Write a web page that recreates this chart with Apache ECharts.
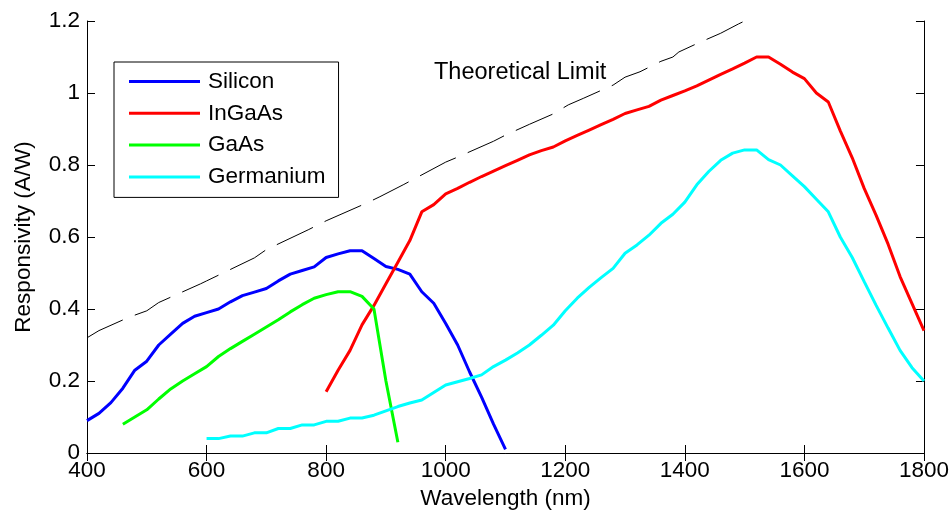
<!DOCTYPE html>
<html>
<head>
<meta charset="utf-8">
<script src="https://cdn.jsdelivr.net/npm/echarts@6/dist/echarts.min.js"></script>
<style>
  html, body { margin: 0; padding: 0; background: #fff; }
  #chart { width: 952px; height: 520px; }
</style>
</head>
<body>
<div id="chart"></div>
<script>
// wavelength (nm) / responsivity (A/W) pairs
var silicon = [
  [400, 0.09], [420, 0.11], [440, 0.14], [460, 0.18], [480, 0.23], [500, 0.255],
  [520, 0.30], [540, 0.33], [560, 0.36], [580, 0.38], [600, 0.39], [620, 0.40],
  [640, 0.42], [660, 0.437], [680, 0.447], [700, 0.457], [720, 0.478], [740, 0.497],
  [760, 0.507], [780, 0.517], [800, 0.543], [820, 0.553], [840, 0.562], [860, 0.562],
  [880, 0.54], [900, 0.518], [920, 0.51], [940, 0.497], [960, 0.448], [980, 0.416],
  [1000, 0.36], [1020, 0.30], [1040, 0.225], [1060, 0.155], [1080, 0.08], [1100, 0.01]
];
var ingaas = [
  [800, 0.17], [820, 0.23], [840, 0.285], [860, 0.356], [880, 0.41], [900, 0.47],
  [920, 0.53], [940, 0.59], [960, 0.67], [980, 0.69], [1000, 0.72], [1020, 0.735],
  [1040, 0.752], [1060, 0.768], [1080, 0.783], [1100, 0.798], [1120, 0.813], [1140, 0.828],
  [1160, 0.84], [1180, 0.85], [1200, 0.867], [1220, 0.882], [1240, 0.897], [1260, 0.912],
  [1280, 0.927], [1300, 0.943], [1320, 0.953], [1340, 0.963], [1360, 0.98], [1380, 0.993],
  [1400, 1.006], [1420, 1.02], [1440, 1.036], [1460, 1.052], [1480, 1.067], [1500, 1.083],
  [1520, 1.1], [1540, 1.1], [1560, 1.08], [1580, 1.058], [1600, 1.04], [1620, 1.0],
  [1640, 0.975], [1660, 0.895], [1680, 0.82], [1700, 0.735], [1720, 0.66], [1740, 0.58],
  [1760, 0.49], [1780, 0.415], [1800, 0.34]
];
var gaas = [
  [460, 0.08], [480, 0.10], [500, 0.12], [520, 0.15], [540, 0.178], [560, 0.20],
  [580, 0.22], [600, 0.24], [620, 0.268], [640, 0.29], [660, 0.31], [680, 0.33],
  [700, 0.35], [720, 0.37], [740, 0.392], [760, 0.412], [780, 0.43], [800, 0.44],
  [820, 0.448], [840, 0.448], [860, 0.435], [880, 0.40], [900, 0.20], [920, 0.03]
];
var germanium = [
  [600, 0.04], [620, 0.04], [640, 0.047], [660, 0.047], [680, 0.056], [700, 0.056],
  [720, 0.068], [740, 0.068], [760, 0.078], [780, 0.078], [800, 0.088], [820, 0.088],
  [840, 0.097], [860, 0.097], [880, 0.105], [900, 0.117], [920, 0.129], [940, 0.139],
  [960, 0.147], [980, 0.168], [1000, 0.189], [1020, 0.198], [1040, 0.207], [1060, 0.217],
  [1080, 0.24], [1100, 0.258], [1120, 0.278], [1140, 0.30], [1160, 0.327], [1180, 0.355],
  [1200, 0.395], [1220, 0.43], [1240, 0.46], [1260, 0.487], [1280, 0.513], [1300, 0.555],
  [1320, 0.578], [1340, 0.605], [1360, 0.638], [1380, 0.663], [1400, 0.697], [1420, 0.745],
  [1440, 0.782], [1460, 0.813], [1480, 0.833], [1500, 0.842], [1520, 0.842], [1540, 0.815],
  [1560, 0.80], [1580, 0.77], [1600, 0.74], [1620, 0.705], [1640, 0.67], [1660, 0.60],
  [1680, 0.543], [1700, 0.476], [1720, 0.41], [1740, 0.347], [1760, 0.285], [1780, 0.237],
  [1800, 0.20]
];
// dashed theoretical limit
var theory = [
  [400, 0.32], [420, 0.34], [470, 0.377], [500, 0.395], [520, 0.418], [590, 0.47],
  [600, 0.478], [680, 0.542], [700, 0.565], [770, 0.62], [800, 0.645], [870, 0.696],
  [890, 0.712], [930, 0.746], [1000, 0.808], [1020, 0.822], [1080, 0.866], [1100, 0.883],
  [1140, 0.913], [1180, 0.942], [1205, 0.967], [1230, 0.985], [1280, 1.022], [1300, 1.044],
  [1325, 1.059], [1360, 1.088], [1380, 1.1], [1390, 1.114], [1420, 1.137], [1460, 1.166],
  [1490, 1.192], [1500, 1.2]
];
var seriesNames = ['Silicon', 'InGaAs', 'GaAs', 'Germanium'];
var seriesColors = ['#0000ff', '#ff0000', '#00ff00', '#00ffff'];
var seriesData = [silicon, ingaas, gaas, germanium];
var limitLabel = 'Theoretical Limit';

var font = '"Liberation Sans", Arial, Helvetica, sans-serif';
var myChart = echarts.init(document.getElementById('chart'));

var seriesArr = [{
  name: limitLabel,
  type: 'line',
  data: theory,
  showSymbol: false,
  symbol: 'none',
  silent: true,
  z: 1,
  lineStyle: { color: '#000', width: 1, type: [40, 13] }
}];
for (var i = 0; i < seriesNames.length; i++) {
  seriesArr.push({
    name: seriesNames[i],
    type: 'line',
    data: seriesData[i],
    showSymbol: false,
    symbol: 'none',
    z: 3,
    color: seriesColors[i],
    lineStyle: { color: seriesColors[i], width: 3 }
  });
}

var axisCommon = {
  type: 'value',
  axisLine: { show: true, lineStyle: { color: '#000', width: 1 } },
  axisTick: { show: true, inside: true, length: 8, lineStyle: { color: '#000' } },
  splitLine: { show: false }
};
var plainNum = function (v) { return String(v); };

var option = {
  animation: false,
  backgroundColor: '#fff',
  textStyle: { fontFamily: font },
  grid: { left: 87, right: 27, top: 21, bottom: 67, containLabel: false },
  legend: {
    data: seriesNames,
    orient: 'vertical',
    left: 114,
    top: 62,
    icon: 'rect',
    itemWidth: 71,
    itemHeight: 3,
    itemGap: 8.8,
    padding: [8, 13, 9, 15],
    borderColor: '#000',
    borderWidth: 1,
    backgroundColor: '#fff',
    textStyle: { fontFamily: font, fontSize: 22.5, color: '#000', padding: [0, 0, 0, 3] }
  },
  xAxis: [
    echarts.util.merge({
      min: 400, max: 1800, interval: 200,
      position: 'bottom',
      name: 'Wavelength (nm)',
      nameLocation: 'middle',
      nameGap: 34,
      nameTextStyle: { fontFamily: font, fontSize: 22.5, color: '#000' },
      axisLabel: { margin: 6, fontFamily: font, fontSize: 22.5, color: '#000', formatter: plainNum }
    }, axisCommon),
    echarts.util.merge({
      min: 400, max: 1800, interval: 200,
      position: 'top',
      axisLabel: { show: false }
    }, axisCommon)
  ],
  yAxis: [
    echarts.util.merge({
      min: 0, max: 1.2, interval: 0.2,
      position: 'left',
      name: 'Responsivity (A/W)',
      nameLocation: 'middle',
      nameGap: 52,
      nameTextStyle: { fontFamily: font, fontSize: 22.5, color: '#000' },
      axisLabel: { margin: 7, fontFamily: font, fontSize: 22.5, color: '#000', formatter: plainNum }
    }, axisCommon),
    echarts.util.merge({
      min: 0, max: 1.2, interval: 0.2,
      position: 'right',
      axisLabel: { show: false }
    }, axisCommon)
  ],
  graphic: [{
    type: 'text',
    left: 434,
    top: 61,
    style: { text: limitLabel, fontFamily: font, fontSize: 23.5, fill: '#000' }
  }],
  series: seriesArr
};
myChart.setOption(option);
</script>
</body>
</html>
